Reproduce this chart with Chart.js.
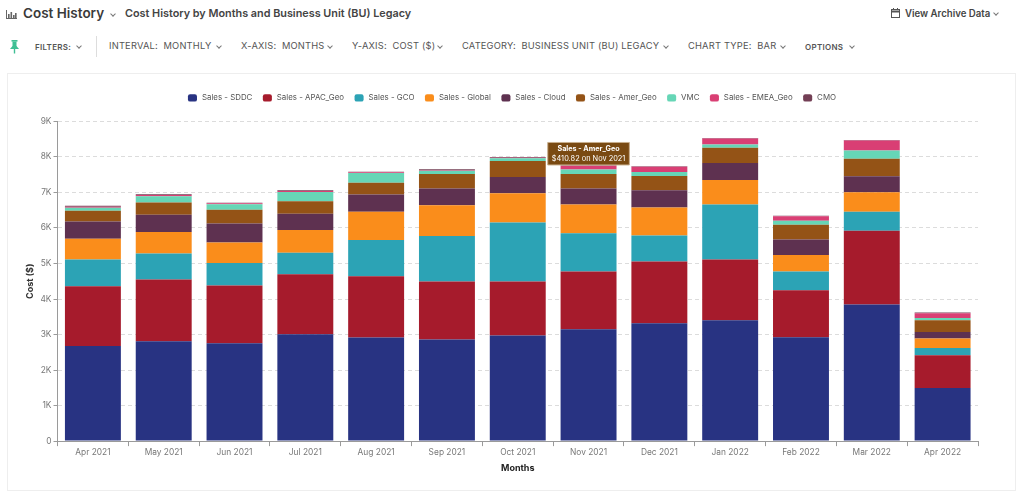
<!DOCTYPE html>
<html>
<head>
<meta charset="utf-8">
<title>Cost History</title>
<script src="https://cdn.jsdelivr.net/npm/chart.js@4"></script>
<style>
html, body { margin: 0; padding: 0; background: #fff; }
body { width: 1024px; height: 495px; overflow: hidden; position: relative; font-family: Inter, sans-serif; color: #555; }
.t { position: absolute; white-space: pre; line-height: 14px; }
.chev { position: absolute; width: 3px; height: 3px; border-right: 1px solid #777; border-bottom: 1px solid #777; transform: rotate(45deg); }
.menu { font-size: 9.3px; top: 39px; letter-spacing: .2px; color: #555; }
.small { font-size: 8px; font-weight: 600; top: 40px; color: #555; letter-spacing: .3px; }
#card { position: absolute; left: 7px; top: 73px; width: 1009px; height: 418px; border: 1px solid #eee; box-sizing: border-box; }
#chart { position: absolute; left: 0; top: 0; }
svg { position: absolute; }
</style>
</head>
<body>
<svg style="left:6px;top:10px" width="12" height="10" viewBox="0 0 12 10" fill="#666"><rect x="0" y="0" width="1" height="9"/><rect x="0" y="8" width="11" height="1"/><rect x="2" y="4" width="1.6" height="4"/><rect x="4.5" y="2" width="1.6" height="6"/><rect x="7" y="5" width="1.6" height="3"/><rect x="9" y="3" width="1.6" height="5"/></svg>
<div class="t" style="left:23px;top:6px;font-size:13.5px;font-weight:600;color:#3a3a3a">Cost History</div>
<div class="chev" style="left:111px;top:12px"></div>
<div class="t" style="left:125px;top:7px;font-size:10.83px;font-weight:600;color:#444">Cost History by Months and Business Unit (BU) Legacy</div>
<svg style="left:891px;top:8px" width="9" height="10" viewBox="0 0 9 10" fill="none" stroke="#555"><rect x=".5" y="1.5" width="8" height="8"/><line x1="0" y1="3.5" x2="9" y2="3.5" stroke-width="2"/><line x1="2.5" y1="0" x2="2.5" y2="2"/><line x1="6.5" y1="0" x2="6.5" y2="2"/></svg>
<div class="t" style="left:905px;top:7px;font-size:9.65px;font-weight:600;color:#444">View Archive Data</div>
<div class="chev" style="left:994px;top:11px"></div>

<svg style="left:9px;top:40px" width="11" height="14" viewBox="0 0 11 14" fill="#3fbf94"><rect x="2.5" y="0" width="6" height="1.6"/><rect x="3.5" y="1.5" width="4" height="5"/><polygon points="1,9 10,9 7.5,6 3.5,6"/><rect x="4.8" y="9" width="1.4" height="4.5"/></svg>
<div class="t small" style="left:35px">FILTERS:</div>
<div class="chev" style="left:77px;top:44px"></div>
<div style="position:absolute;left:95.5px;top:36px;width:1px;height:21px;background:#ddd"></div>
<div class="t menu" style="left:109px">INTERVAL:  MONTHLY</div>
<div class="chev" style="left:217px;top:44px"></div>
<div class="t menu" style="left:241px">X-AXIS:  MONTHS</div>
<div class="chev" style="left:328px;top:44px"></div>
<div class="t menu" style="left:352px">Y-AXIS:  COST ($)</div>
<div class="chev" style="left:438px;top:44px"></div>
<div class="t menu" style="left:462px">CATEGORY:  BUSINESS UNIT (BU) LEGACY</div>
<div class="chev" style="left:664px;top:44px"></div>
<div class="t menu" style="left:688px">CHART TYPE:  BAR</div>
<div class="chev" style="left:781px;top:44px"></div>
<div class="t small" style="left:805px">OPTIONS</div>
<div class="chev" style="left:850px;top:44px"></div>

<div id="card"><canvas id="chart"></canvas></div>

<script>
'use strict';

const months = ['Apr 2021', 'May 2021', 'Jun 2021', 'Jul 2021', 'Aug 2021', 'Sep 2021', 'Oct 2021', 'Nov 2021', 'Dec 2021', 'Jan 2022', 'Feb 2022', 'Mar 2022', 'Apr 2022'];
const yTickLabels = ['0', '1K', '2K', '3K', '4K', '5K', '6K', '7K', '8K', '9K'];

const salesSddc = [2680, 2811, 2755, 3008, 2915, 2859, 2971, 3148, 3316, 3400, 2924, 3849, 1494];
const salesApac = [1682, 1738, 1626, 1690, 1727, 1634, 1522, 1626, 1738, 1710, 1326, 2074, 925];
const salesGco = [748, 729, 636, 608, 1020, 1281, 1662, 1074, 737, 1550, 524, 533, 205];
const salesGlobal = [589, 608, 577, 636, 793, 869, 824, 813, 785, 692, 468, 552, 263];
const salesCloud = [485, 485, 533, 457, 485, 465, 457, 448, 488, 477, 437, 448, 185];
const salesAmer = [300, 345, 384, 356, 336, 412, 448, 410.82, 401, 429, 412, 493, 328];
const vmc = [84, 179, 160, 261, 272, 92, 76, 123, 112, 95, 112, 235, 64];
const salesEmea = [28, 36, 22, 28, 22, 20, 20, 107, 146, 163, 126, 275, 132];
const cmo = [28, 20, 14, 20, 14, 20, 17, 14, 14, 14, 14, 14, 28];

const seriesNames = ['Sales - SDDC', 'Sales - APAC_Geo', 'Sales - GCO', 'Sales - Global', 'Sales - Cloud', 'Sales - Amer_Geo', 'VMC', 'Sales - EMEA_Geo', 'CMO'];
const seriesValues = [salesSddc, salesApac, salesGco, salesGlobal, salesCloud, salesAmer, vmc, salesEmea, cmo];
const seriesColors = ['#283382', '#a61b2c', '#2ca3b5', '#fa8d1b', '#5e3150', '#945316', '#66d6b6', '#d93f74', '#733f55'];

const AXIS_COLOR = '#9a9a9a';
const TEXT_COLOR = '#777';
const FONT = 'Inter, sans-serif';

const canvas = document.getElementById('chart');
canvas.style.width = '1007px';
canvas.style.height = '416px';
canvas.width = 1007;
canvas.height = 416;

// Legend sits higher and further right than Chart.js would put it by default
const legendPlacement = {
    id: 'legendPlacement',
    beforeInit(chart) {
        const fit = chart.legend.fit;
        chart.legend.fit = function () {
            fit.call(this);
            this.height += 9.5;
        };
    },
    afterLayout(chart) {
        chart.legend.left += 10;
        chart.legend.right += 10;
    }
};

const chart = new Chart(canvas, {
    type: 'bar',
    plugins: [legendPlacement],
    data: {
        labels: months,
        datasets: seriesNames.map((name, i) => ({
            label: name,
            data: seriesValues[i],
            backgroundColor: seriesColors[i],
            borderWidth: 0,
            categoryPercentage: 1,
            barPercentage: 0.79
        }))
    },
    options: {
        responsive: false,
        animation: false,
        layout: { padding: { top: 10.5, right: 37, bottom: 15, left: 17 } },
        plugins: {
            legend: {
                position: 'top',
                labels: {
                    usePointStyle: true,
                    pointStyle: 'rectRounded',
                    boxWidth: 6,
                    boxHeight: 6,
                    pointStyleWidth: 11,
                    padding: 9.5,
                    color: '#555',
                    font: { family: FONT, size: 7.9 }
                }
            },
            tooltip: {
                enabled: true,
                backgroundColor: '#7a4a12',
                borderColor: '#c9b08f',
                borderWidth: 1,
                cornerRadius: 0,
                caretSize: 0,
                caretPadding: 9,
                xAlign: 'center',
                yAlign: 'bottom',
                displayColors: false,
                padding: { x: 4, y: 2 },
                titleAlign: 'center',
                bodyAlign: 'center',
                titleColor: '#fff',
                bodyColor: '#fff',
                titleMarginBottom: 1,
                titleFont: { family: FONT, size: 7.2, weight: '700' },
                bodyFont: { family: FONT, size: 7.4 },
                callbacks: {
                    title: items => items[0].dataset.label,
                    label: item => '$' + item.parsed.y.toFixed(2) + ' on ' + item.label
                }
            }
        },
        scales: {
            x: {
                stacked: true,
                offset: true,
                border: { color: AXIS_COLOR },
                grid: { drawOnChartArea: false, color: AXIS_COLOR, tickLength: 5, offset: true },
                ticks: { color: TEXT_COLOR, font: { family: FONT, size: 8.4 }, maxRotation: 0, padding: 1 },
                title: { display: true, text: 'Months', color: '#222', font: { family: FONT, size: 9, weight: '700' }, padding: { top: 5, bottom: 1 } }
            },
            y: {
                stacked: true,
                min: 0,
                max: 9000,
                afterFit: scale => { scale.width = 32.5; },
                border: { color: AXIS_COLOR, dash: [4, 3] },
                grid: { color: '#dcdcdc', tickColor: AXIS_COLOR, tickLength: 4, tickBorderDash: [] },
                ticks: {
                    stepSize: 1000,
                    color: TEXT_COLOR,
                    padding: 2,
                    font: { family: FONT, size: 8.4 },
                    callback: (value, index) => yTickLabels[index]
                },
                title: { display: true, text: 'Cost ($)', color: '#333', font: { family: FONT, size: 9, weight: '700' }, padding: { top: 0, bottom: 0 } }
            }
        }
    }
});

// Keep the Nov 2021 tooltip open as in the original screenshot
const amerBar = chart.getDatasetMeta(5).data[7];
chart.tooltip.setActiveElements([{ datasetIndex: 5, index: 7 }], { x: amerBar.x, y: amerBar.y });
chart.update('none');
</script>
</body>
</html>
